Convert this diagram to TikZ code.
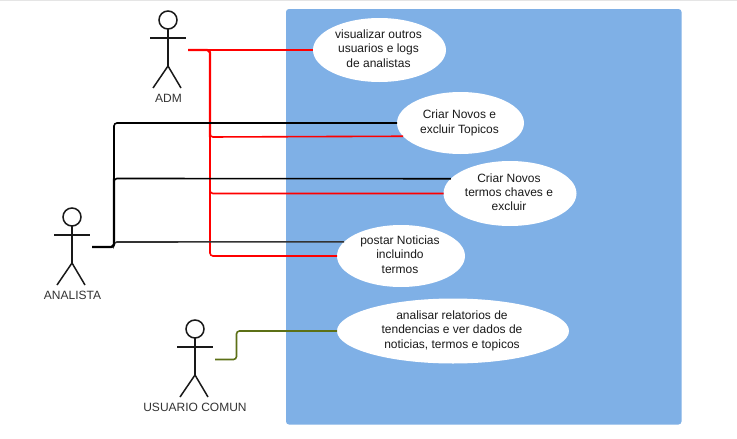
\documentclass[tikz,border=0pt]{standalone}
\usepackage{fontspec}
\setmainfont{Liberation Sans}
\usetikzlibrary{shapes.geometric}
\definecolor{panelblue}{HTML}{7FB0E6}
\definecolor{oliveline}{HTML}{5C7016}
\definecolor{labelgrey}{HTML}{333333}
\definecolor{casetext}{HTML}{1A1A1A}
\newcommand{\casebox}[1]{\raisebox{-1pt}{\kern-1pt\begin{tabular}{@{}c@{}}#1\end{tabular}\kern1pt}}
\tikzset{
  x=1pt,y=-1pt,
  every node/.style={font=\fontsize{12}{14.3}\selectfont},
  panel/.style={fill=panelblue,draw=none,rounded corners=3pt},
  usecase/.style={ellipse,fill=white,draw=none,inner sep=0pt,outer sep=0pt,align=center,text=casetext},
  actorlabel/.style={text=labelgrey,inner sep=0pt,anchor=center},
  figure/.style={draw=black!90,line width=1.5pt},
  link/.style={line width=1.6pt,rounded corners=3pt},
  trunk/.style={line width=2.3pt,rounded corners=3pt},
  stick/.pic={
    \draw[figure,fill=white] (0,0) circle[radius=9];
    \draw[figure] (-18,18) -- (18,18);
    \draw[figure] (0,9) -- (0,46);
    \draw[figure] (-15,68) -- (0,46) -- (13,68);
  }
}
\begin{document}
\begin{tikzpicture}
\useasboundingbox (0,0) rectangle (737,439);
\fill[white] (0,0) rectangle (737,439);
\fill[black!10] (0,0) rectangle (737,1);
\fill[panel] (286,9) rectangle (681.5,424.5);

\pic at (168,20) {stick};
\pic at (72,217) {stick};
\pic at (195,329) {stick};
\node[actorlabel] (adm) at (168.5,98.5) {ADM};
\node[actorlabel] (analista) at (72.5,295.5) {ANALISTA};
\node[actorlabel] (comun) at (195,407.5) {USUARIO COMUN};

\node[usecase,minimum width=133pt,minimum height=64pt] (e1) at (379.5,50) {\casebox{visualizar outros\\usuarios e logs\\de analistas}};
\node[usecase,minimum width=127pt,minimum height=62pt] (e2) at (460.5,123) {\casebox{Criar Novos e\\excluir Topicos}};
\node[usecase,minimum width=133pt,minimum height=65pt] (e3) at (510,193.5) {\casebox{Criar Novos\\termos chaves e\\excluir}};
\node[usecase,minimum width=128pt,minimum height=62pt] (e4) at (401,256) {\casebox{postar Noticias\\incluindo\\termos}};
\node[usecase,minimum width=232pt,minimum height=65pt] (e5) at (453,331) {\casebox{analisar relatorios de\\tendencias e ver dados de\\noticias, termos e topicos}};

\coordinate (admport) at (188,50);
\coordinate (anaport) at (92,247);
\coordinate (comport) at (215,359.5);

\draw[link,red] (admport) -- (e1.west);
\draw[link,red] (admport) -| (210,137) -- (e2.193.7);
\draw[link,red] (admport) -| (210,193.5) -- (e3.west);
\draw[link,red] (admport) -| (210,256) -- (e4.west);
\draw[trunk,red] (admport) -| (210,137);

\draw[link,black] (anaport) -| (114,123) -- (e2.west);
\draw[link,black] (anaport) -| (114,178.5) -- (e3.166);
\draw[link,black!80] (anaport) -| (114,242) -- (e4.166.4);
\draw[trunk,black] (anaport) -| (114,178.5);

\draw[link,oliveline] (comport) -| (236.5,331) -- (e5.west);
\end{tikzpicture}
\end{document}
